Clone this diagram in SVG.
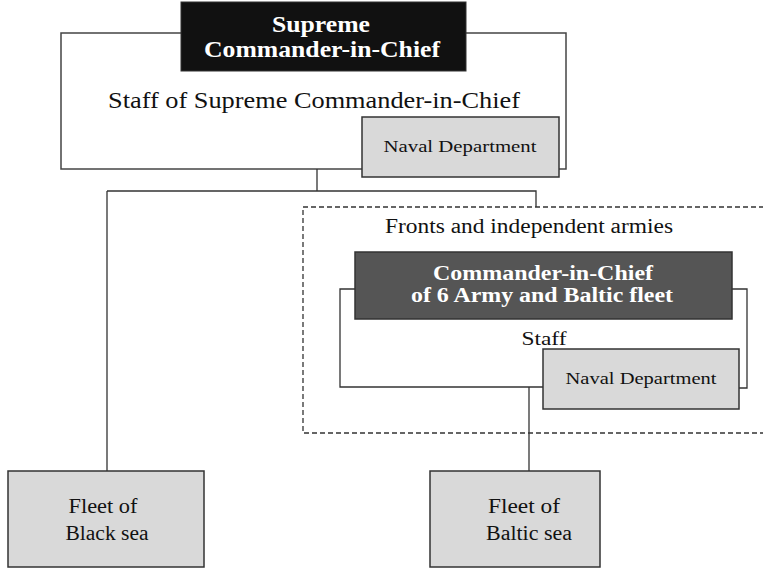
<svg xmlns="http://www.w3.org/2000/svg" width="763" height="569" viewBox="0 0 763 569">
<style>
text{font-family:"Liberation Serif","DejaVu Serif",serif;fill:#111;text-anchor:middle}
.w{fill:#fff;font-weight:bold}
.line{fill:none;stroke:#333;stroke-width:1.3}
.gray{fill:#d9d9d9;stroke:#333;stroke-width:1.5}
.frame{fill:#fff;stroke:#444;stroke-width:1.5}
</style>
<rect width="763" height="569" fill="#fff"/>
<g id="staff-supreme">
<rect class="frame" x="61" y="33" width="505" height="136"/>
<text x="314" y="108" font-size="23" textLength="412" lengthAdjust="spacingAndGlyphs">Staff of Supreme Commander-in-Chief</text>
</g>
<g id="supreme">
<rect x="181" y="2" width="285" height="69" fill="#111" stroke="#333"/>
<text class="w" x="321" y="32" font-size="23" textLength="98" lengthAdjust="spacingAndGlyphs">Supreme</text>
<text class="w" x="322" y="57" font-size="23" textLength="236" lengthAdjust="spacingAndGlyphs">Commander-in-Chief</text>
</g>
<g id="naval-dept-1">
<rect class="gray" x="362" y="117" width="197" height="60"/>
<text x="460" y="152" font-size="17" textLength="153" lengthAdjust="spacingAndGlyphs">Naval Department</text>
</g>
<g id="connectors">
<path class="line" d="M317 169V191M107 191H536V207M107 191V471"/>
<path class="line" d="M355 289H340V387H543M732 289H747V388H739"/>
<path class="line" d="M529 387V471"/>
</g>
<g id="fronts">
<rect x="303" y="207" width="470" height="226" fill="none" stroke="#333" stroke-width="1.3" stroke-dasharray="5 3"/>
<text x="529" y="233" font-size="20" textLength="288" lengthAdjust="spacingAndGlyphs">Fronts and independent armies</text>
</g>
<g id="commander-6">
<rect x="355" y="252" width="377" height="67" fill="#555" stroke="#333" stroke-width="1.5"/>
<text class="w" x="543" y="280" font-size="20" textLength="220" lengthAdjust="spacingAndGlyphs">Commander-in-Chief</text>
<text class="w" x="542" y="302" font-size="20" textLength="262" lengthAdjust="spacingAndGlyphs">of 6 Army and Baltic fleet</text>
</g>
<g id="staff-6">
<text x="544" y="345" font-size="19" textLength="45" lengthAdjust="spacingAndGlyphs">Staff</text>
</g>
<g id="naval-dept-2">
<rect class="gray" x="543" y="349" width="196" height="60"/>
<text x="641" y="384" font-size="17" textLength="151" lengthAdjust="spacingAndGlyphs">Naval Department</text>
</g>
<g id="fleet-black">
<rect class="gray" x="8" y="471" width="196" height="96"/>
<text x="103" y="513" font-size="20" textLength="69" lengthAdjust="spacingAndGlyphs">Fleet of</text>
<text x="107" y="540" font-size="20" textLength="83" lengthAdjust="spacingAndGlyphs">Black sea</text>
</g>
<g id="fleet-baltic">
<rect class="gray" x="430" y="471" width="170" height="96"/>
<text x="524" y="513" font-size="20" textLength="72" lengthAdjust="spacingAndGlyphs">Fleet of</text>
<text x="529" y="540" font-size="20" textLength="86" lengthAdjust="spacingAndGlyphs">Baltic sea</text>
</g>
</svg>
